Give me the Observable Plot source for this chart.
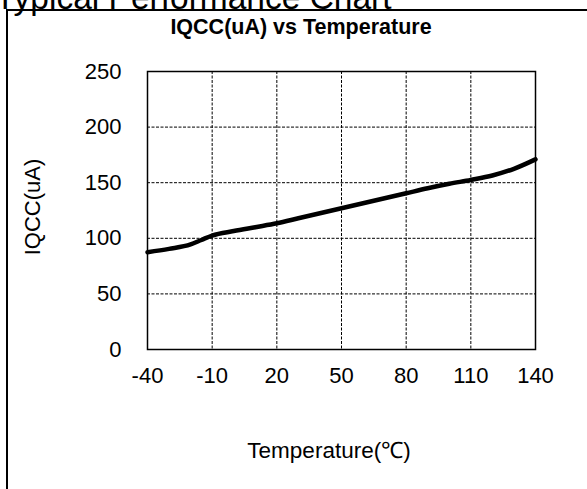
<!DOCTYPE html>
<html>
<head>
<meta charset="utf-8">
<script src="https://cdn.jsdelivr.net/npm/d3@7"></script>
<script src="https://cdn.jsdelivr.net/npm/@observablehq/plot@0.6"></script>
<style>
  html, body { margin: 0; padding: 0; background: #fff; }
  #wrap { position: relative; width: 587px; height: 489px; overflow: hidden; font-family: "Liberation Sans", Arial, sans-serif; color: #000; }
  #box { position: absolute; left: 6px; top: 9px; width: 700px; height: 600px; border-left: 2px solid #000; border-top: 2px solid #000; }
  .t { position: absolute; white-space: nowrap; line-height: 1; }
  #chart { position: absolute; left: 0; top: 0; }
</style>
</head>
<body>
<div id="wrap">
  <div id="box"></div>
  <div id="chart"></div>
  <div class="t" id="top" style="left:-5px; top:-19px; font-size:33.5px;">Typical Performance Chart</div>
  <div class="t" id="title" style="left:301px; top:17px; font-size:21.5px; font-weight:bold; transform:translateX(-50%);">IQCC(uA) vs Temperature</div>
  <div class="t" id="ylab" style="left:33px; top:207px; font-size:22px; transform:translate(-50%,-50%) rotate(-90deg);">IQCC(uA)</div>
  <div class="t" id="xlab" style="left:329px; top:440px; font-size:22.5px; transform:translateX(-50%);">Temperature(℃)</div>
</div>
<script>
const temperature = [-40, -30, -20, -15, -10, 0, 10, 20, 30, 40, 50, 60, 70, 80, 90, 100, 110, 120, 130, 140];
const iqcc = [87.5, 90.5, 94.5, 98.5, 102.5, 106.5, 110, 113.5, 118, 122.5, 127, 131.5, 136, 140.5, 145, 149, 152.5, 156.5, 162.5, 171];
const xTicks = [-40, -10, 20, 50, 80, 110, 140];
const yTicks = [0, 50, 100, 150, 200, 250];

const data = temperature.map((t, i) => ({t, v: iqcc[i]}));
const gridStyle = {stroke: "#000", strokeOpacity: 1, strokeWidth: 1, strokeDasharray: "3,1.5"};

const chart = Plot.plot({
  width: 587,
  height: 489,
  marginLeft: 147,
  marginRight: 52,
  marginTop: 71,
  marginBottom: 140,
  style: {fontFamily: '"Liberation Sans", Arial, sans-serif', fontSize: "22px", color: "#000", background: "transparent"},
  x: {domain: [-40, 140]},
  y: {domain: [0, 250]},
  marks: [
    Plot.gridX(xTicks.slice(1, -1), gridStyle),
    Plot.gridY(yTicks.slice(1, -1), gridStyle),
    Plot.frame({stroke: "#000", strokeWidth: 1.5}),
    Plot.line(data, {x: "t", y: "v", curve: "monotone-x", stroke: "#000", strokeWidth: 4.5}),
    Plot.axisX(xTicks, {tickSize: 0, tickPadding: 18, label: null, fill: "#000", tickFormat: d => String(d)}),
    Plot.axisY(yTicks, {tickSize: 0, tickPadding: 26, label: null, fill: "#000", tickFormat: d => String(d)})
  ]
});
document.getElementById("chart").appendChild(chart);
</script>
</body>
</html>
